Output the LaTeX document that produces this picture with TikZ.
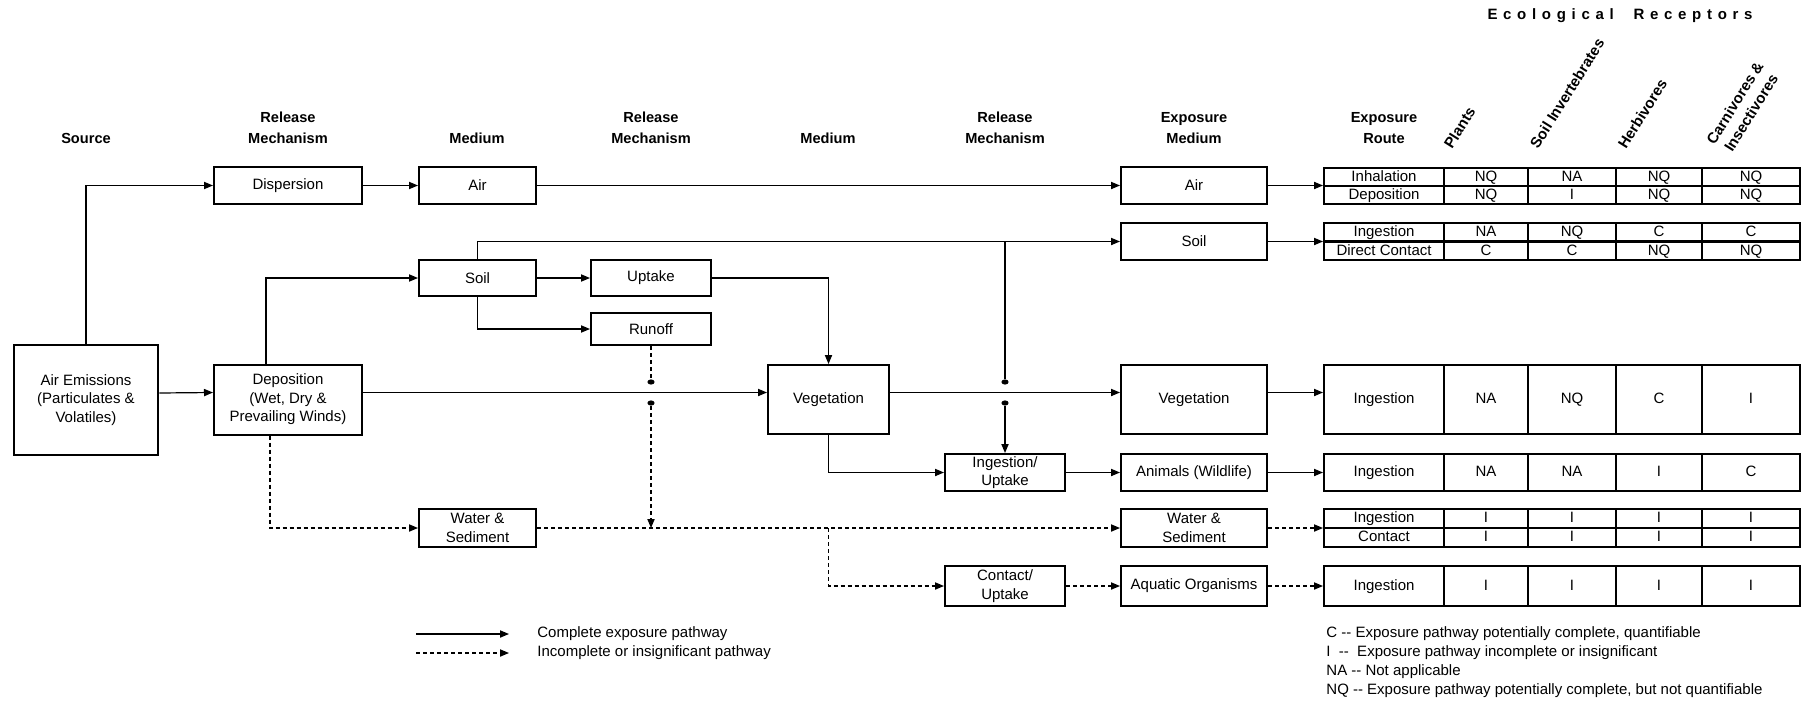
\documentclass[tikz,border=0pt]{standalone}
\usepackage{fontspec}
\setmainfont{Liberation Sans}
\usetikzlibrary{arrows.meta,shapes.geometric}

\begin{document}
\begin{tikzpicture}[x=0.5pt,y=-0.5pt,
    box/.style={draw, line width=1pt, inner sep=0pt, align=center, font=\fontsize{7.5}{9.2}\selectfont},
    cell/.style={box, text height=5.4pt, text depth=1.1pt},
    head/.style={align=center, inner sep=0pt, anchor=south, font=\fontsize{7.3}{10.5}\selectfont\bfseries},
    rec/.style={inner sep=0pt, anchor=base west, rotate=58, align=center, font=\fontsize{7.5}{9.5}\selectfont\bfseries},
    txt/.style={inner sep=0pt, anchor=west, font=\fontsize{7.5}{9.2}\selectfont},
    dot/.style={ellipse, fill, inner sep=0pt, minimum width=3.6pt, minimum height=2.6pt},
    link/.style={line width=0.6pt},
    flow/.style={link, -{Triangle[length=4.5pt,width=3.6pt]}},
    weak/.style={flow, dash pattern=on 2pt off 1.5pt}]
    \useasboundingbox (0,0) rectangle (1803,701);

    % column heads
    \node[head] (h0) at (86,144) {Source};
    \node[head] (h1) at (288,144) {Release\\Mechanism};
    \node[head] (h2) at (477,144) {Medium};
    \node[head] (h3) at (651,144) {Release\\Mechanism};
    \node[head] (h4) at (828,144) {Medium};
    \node[head] (h5) at (1005,144) {Release\\Mechanism};
    \node[head] (h6) at (1194,144) {Exposure\\Medium};
    \node[head] (h7) at (1384,144) {Exposure\\Route};
    \node[head, anchor=center, font=\fontsize{7.5}{9}\selectfont\bfseries\addfontfeature{LetterSpace=38}] (eco) at (1620,16) {Ecological\ \ Receptors};
    \node[rec] (r1) at (1452,150) {Plants};
    \node[rec] (r2) at (1538,150) {Soil Invertebrates};
    \node[rec] (r3) at (1626,150) {Herbivores};
    \node[rec, anchor=south west] (r4) at (1731,156) {Carnivores \&\\Insectivores};

    % boxes
    \node[box, line width=1.4pt, minimum width=72pt, minimum height=55pt] (src) at (86,400) {Air Emissions\\(Particulates \&\\Volatiles)};
    \node[box, minimum width=74pt, minimum height=18.5pt] (disp) at (288,185.5) {Dispersion};
    \node[box, minimum width=74pt, minimum height=35pt] (dep) at (288,399.5) {Deposition\\(Wet, Dry \&\\Prevailing Winds)};
    \node[box, minimum width=58.5pt, minimum height=18.5pt] (air) at (477.5,185.5) {Air};
    \node[box, minimum width=58.5pt, minimum height=18pt] (soil) at (477.5,278) {Soil};
    \node[box, minimum width=58.5pt, minimum height=19pt] (water) at (477.5,528) {Water \&\\Sediment};
    \node[box, minimum width=60pt, minimum height=18pt] (uptake) at (651,278) {Uptake};
    \node[box, minimum width=60pt, minimum height=16pt] (runoff) at (651,329) {Runoff};
    \node[box, minimum width=60.5pt, minimum height=34.5pt] (veg) at (828.5,399.5) {Vegetation};
    \node[box, minimum width=60pt, minimum height=18.5pt] (ingest) at (1005,472.5) {Ingestion/\\Uptake};
    \node[box, minimum width=60pt, minimum height=20pt] (contact) at (1005,586) {Contact/\\Uptake};
    \node[box, minimum width=73pt, minimum height=18.5pt] (airx) at (1194,185.5) {Air};
    \node[box, minimum width=73pt, minimum height=18.5pt] (soilx) at (1194,241.5) {Soil};
    \node[box, minimum width=73pt, minimum height=34.5pt] (vegx) at (1194,399.5) {Vegetation};
    \node[box, minimum width=73pt, minimum height=18.5pt] (animx) at (1194,472.5) {Animals (Wildlife)};
    \node[box, minimum width=73pt, minimum height=19pt] (waterx) at (1194,528) {Water \&\\Sediment};
    \node[box, minimum width=73pt, minimum height=20pt] (aquax) at (1194,586) {Aquatic Organisms};

    % receptor tables
    \foreach \n/\y/\h/\r/\a/\b/\c/\d in {
        ai/177/9/Inhalation/NQ/NA/NQ/NQ,
        ad/195/9/Deposition/NQ/I/NQ/NQ,
        si/232/9.25/Ingestion/NA/NQ/C/C,
        sc/251/9.25/Direct Contact/C/C/NQ/NQ,
        vi/399.5/34.5/Ingestion/NA/NQ/C/I,
        ni/472.5/18.5/Ingestion/NA/NA/I/C,
        wi/518.5/9.5/Ingestion/I/I/I/I,
        wc/537.5/9.5/Contact/I/I/I/I,
        qi/586/20/Ingestion/I/I/I/I}{
        \node[cell, minimum width=60pt, minimum height=\h pt] (\n0) at (1384,\y) {\r};
        \node[cell, minimum width=42pt, minimum height=\h pt] (\n1) at (1486,\y) {\a};
        \node[cell, minimum width=44pt, minimum height=\h pt] (\n2) at (1572,\y) {\b};
        \node[cell, minimum width=43pt, minimum height=\h pt] (\n3) at (1659,\y) {\c};
        \node[cell, minimum width=49pt, minimum height=\h pt] (\n4) at (1751,\y) {\d};
    }

    % crossing marks
    \node[dot] (k1) at (1005,382) {};
    \node[dot] (k2) at (1005,403) {};
    \node[dot] (k3) at (651,382) {};
    \node[dot] (k4) at (651,403) {};

    % complete pathways
    \draw[flow] (src.north) |- (disp.west);
    \draw[flow] ([yshift=3.5pt]src.east) -- ([yshift=3.5pt]dep.west);
    \draw[flow] (disp) -- (air);
    \draw[flow] (air) -- (airx);
    \draw[flow] ([xshift=-11pt]dep.north) |- (soil.west);
    \draw[flow] (soil) -- (uptake);
    \draw[flow] (soil.south) |- (runoff.west);
    \draw[flow] (soil.north) |- (soilx.west);
    \draw[flow] (uptake.east) -| (veg.north);
    \draw[flow] ([yshift=3.5pt]dep.east) -- ([yshift=3.5pt]veg.west);
    \draw[flow] ([yshift=3.5pt]veg.east) -- ([yshift=3.5pt]vegx.west);
    \draw[link] (k1 |- soilx.west) -- (k1);
    \draw[flow] (k2) -- (ingest.north);
    \draw[flow] (veg.south) |- (ingest.west);
    \draw[flow] (ingest) -- (animx);
    \draw[flow] (airx.east) -- (airx.east -| ai0.west);
    \draw[flow] (soilx.east) -- (soilx.east -| si0.west);
    \draw[flow] ([yshift=3.5pt]vegx.east) -- ([yshift=3.5pt]vegx.east -| vi0.west);
    \draw[flow] (animx.east) -- (animx.east -| ni0.west);

    % incomplete pathways
    \draw[link, dash pattern=on 2pt off 1.5pt] (runoff.south) -- (k3);
    \draw[weak] (k4) -- (k4 |- water.east);
    \draw[weak] ([xshift=-9pt]dep.south) |- (water.west);
    \draw[weak] (water) -- (waterx);
    \draw[weak] (veg.south |- water.east) |- (contact.west);
    \draw[weak] (contact) -- (aquax);
    \draw[weak] (waterx.east) -- (waterx.east -| wi0.west);
    \draw[weak] (aquax.east) -- (aquax.east -| qi0.west);

    % legend
    \coordinate (c1) at (416,634);
    \coordinate (c2) at (509,634);
    \coordinate (c3) at (416,653);
    \coordinate (c4) at (509,653);
    \draw[flow] (c1) -- (c2);
    \draw[weak] (c3) -- (c4);
    \node[txt] (t1) at (537,634) {Complete exposure pathway};
    \node[txt] (t2) at (537,653) {Incomplete or insignificant pathway};
    \node[txt] (n1) at (1326,634) {C -{}- Exposure pathway potentially complete, quantifiable};
    \node[txt] (n2) at (1326,653) {I\ \ -{}-\ \ Exposure pathway incomplete or insignificant};
    \node[txt] (n3) at (1326,672) {NA -{}- Not applicable};
    \node[txt] (n4) at (1326,691) {NQ -{}- Exposure pathway potentially complete, but not quantifiable};
\end{tikzpicture}
\end{document}
